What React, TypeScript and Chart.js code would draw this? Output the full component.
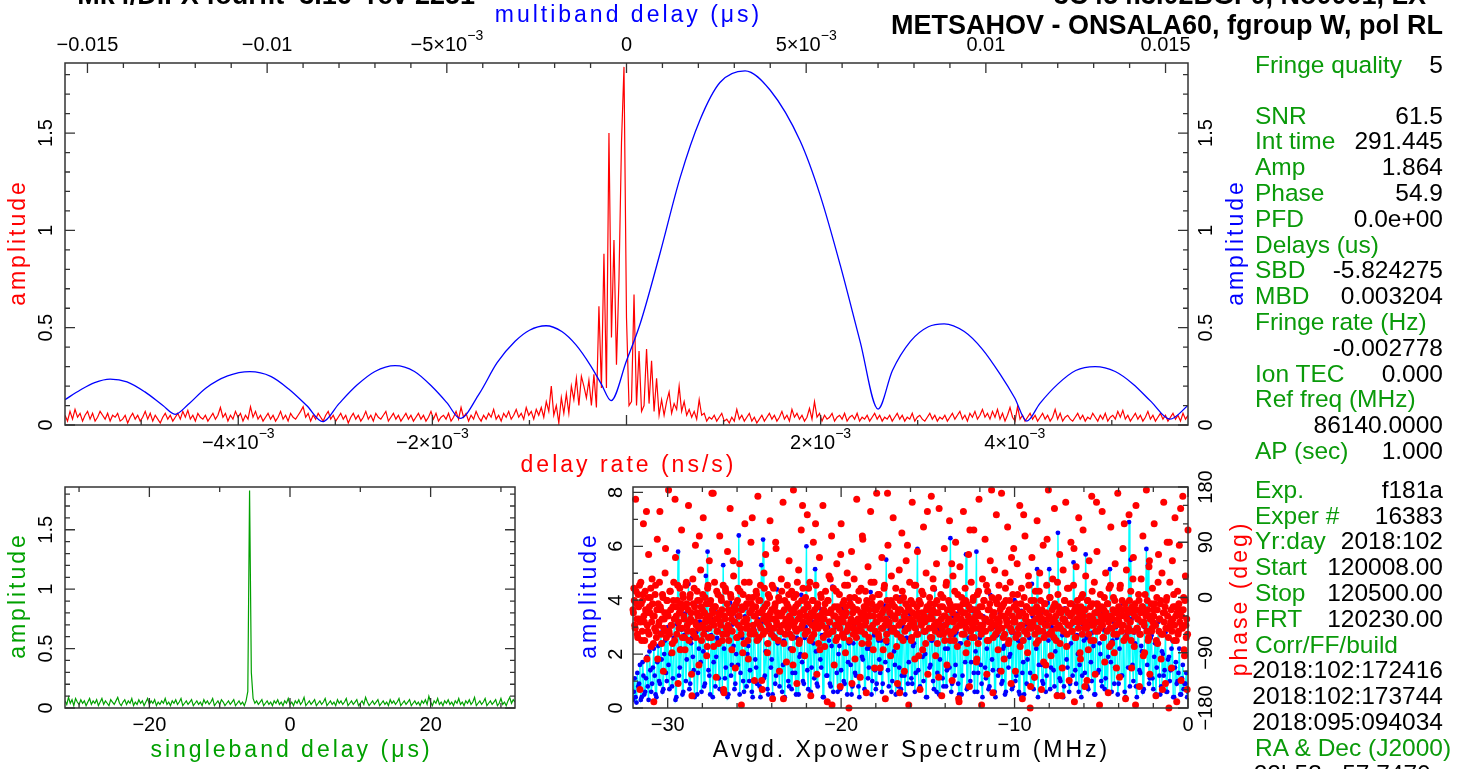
import React, { useEffect, useRef } from 'react';
import { Chart, registerables } from 'chart.js';
Chart.register(...registerables);

const W = 1462;
const H = 769;
const FONT = '"Liberation Sans", Arial, Helvetica, sans-serif';
const RED = '#ff0000';
const BLUE = '#0000ff';
const GREEN = '#00a000';
const CYAN = '#00ffff';
const PANEL_GREEN = '#0a9a0a';

// ---------------- data ----------------
// delay-rate spectrum (red), uniformly sampled over this range (ns/s)
const delayRateRange = [-5.785e-3, 5.785e-3];
const delayRateAmp = [
  0.05,0.02,0.07,0.03,0.08,0.04,0.06,0.02,0.05,0.07,0.03,0.06,0.02,0.04,0.07,0.05,0.03,0.06,0.02,0.05,
  0.04,0.06,0.02,0.03,0.05,0.01,0.04,0.06,0.03,0.05,0.02,0.04,0.07,0.03,0.06,0.02,0.05,0.03,0.01,0.04,
  0.06,0.03,0.05,0.02,0.04,0.06,0.03,0.07,0.04,0.075,0.03,0.05,0.02,0.06,0.04,0.03,0.05,0.02,0.04,0.06,
  0.03,0.05,0.09,0.04,0.06,0.02,0.05,0.03,0.07,0.04,0.06,0.02,0.05,0.03,0.094,0.04,0.07,0.03,0.05,0.02,
  0.04,0.06,0.03,0.05,0.02,0.04,0.07,0.03,0.05,0.02,0.06,0.04,0.03,0.05,0.07,0.094,0.04,0.06,0.02,0.05,
  0.03,0.06,0.04,0.02,0.05,0.07,0.03,0.05,0.02,0.04,0.06,0.03,0.05,0.01,0.04,0.06,0.03,0.05,0.02,0.04,
  0.07,0.03,0.05,0.02,0.06,0.04,0.03,0.05,0.07,0.02,0.04,0.06,0.03,0.05,0.02,0.04,0.06,0.03,0.05,0.02,
  0.04,0.06,0.03,0.05,0.02,0.04,0.07,0.03,0.06,0.02,0.04,0.05,0.03,0.06,0.02,0.04,0.07,0.03,0.09,0.04,
  0.06,0.02,0.05,0.03,0.07,0.04,0.02,0.05,0.03,0.06,0.04,0.08,0.03,0.05,0.02,0.06,0.04,0.07,0.03,0.05,
  0.08,0.04,0.06,0.03,0.09,0.05,0.07,0.03,0.08,0.05,0.09,0.04,0.12,0.07,0.20,0.05,0.10,0.01,0.14,0.06,
  0.16,0.06,0.20,0.13,0.24,0.10,0.25,0.20,0.14,0.23,0.10,0.26,
  0.09,0.61,0.19,0.88,0.19,1.50,0.45,0.95,0.31,0.75,1.45,1.84,0.55,0.10,0.12,0.67,0.10,
  0.38,0.07,0.10,0.39,0.11,0.33,0.07,0.24,0.05,0.13,0.05,0.12,0.17,0.06,0.11,0.08,0.20,0.07,0.12,0.05,
  0.08,0.04,0.07,0.03,0.13,0.05,0.06,0.02,0.04,0.03,0.05,0.02,0.04,0.06,0.02,0.03,0.01,0.04,0.02,0.08,
  0.03,0.05,0.02,0.04,0.06,0.02,0.04,0.01,0.03,0.05,0.02,0.04,0.06,0.03,0.05,0.02,0.04,0.07,0.03,0.05,
  0.02,0.08,0.04,0.06,0.03,0.05,0.02,0.04,0.085,0.03,0.12,0.04,0.06,0.02,0.05,0.03,0.04,0.06,0.02,0.04,
  0.05,0.03,0.06,0.02,0.04,0.05,0.03,0.06,0.02,0.04,0.03,0.05,0.02,0.04,0.06,0.03,0.05,0.02,0.04,0.03,
  0.05,0.02,0.04,0.06,0.03,0.05,0.02,0.04,0.03,0.06,0.02,0.04,0.05,0.03,0.02,0.04,0.06,0.03,0.05,0.02,
  0.04,0.03,0.05,0.02,0.04,0.06,0.03,0.05,0.07,0.03,0.05,0.02,0.06,0.04,0.07,0.03,0.05,0.08,0.04,0.06,
  0.03,0.07,0.04,0.08,0.03,0.06,0.02,0.05,0.09,0.04,0.02,0.095,0.03,0.05,0.02,0.04,0.06,0.03,0.05,0.02,
  0.04,0.06,0.03,0.05,0.02,0.04,0.08,0.03,0.06,0.02,0.04,0.05,0.03,0.02,0.04,0.06,0.03,0.05,0.02,0.04,
  0.03,0.06,0.04,0.02,0.05,0.03,0.06,0.02,0.04,0.05,0.03,0.07,0.04,0.075,0.03,0.05,0.02,0.04,0.06,0.03,
  0.05,0.02,0.04,0.07,0.03,0.05,0.02,0.04,0.06,0.03,0.05,0.02,0.04,0.06,0.03,0.05,0.02,0.06,0.03,0.05,
];

// multiband delay function (blue), read at these delays (μs)
const mbdDelay = [
  -0.015625,-0.0152,-0.0148,-0.01437,-0.0139,-0.0134,-0.0129,-0.01256,-0.0122,-0.0117,-0.0111,-0.01048,
  -0.0099,-0.0094,-0.0089,-0.00845,-0.0080,-0.0075,-0.0070,-0.00644,-0.0059,-0.0054,-0.0050,-0.00463,
  -0.0041,-0.0036,-0.0031,-0.0027,-0.00224,-0.0018,-0.0014,-0.0010,-0.0007,-0.00043,0.0,0.00038,
  0.00093,0.00149,0.00205,0.0026,0.0033,0.0040,0.00483,0.00539,0.00595,0.0065,0.0070,0.0074,0.0079,
  0.0084,0.00884,0.0094,0.0099,0.0104,0.0108,0.01114,0.0115,0.0120,0.0125,0.01304,0.0136,0.0141,
  0.0146,0.01512,0.015625,
];
const mbdAmp = [
  0.130,0.180,0.218,0.236,0.222,0.170,0.100,0.055,0.105,0.190,0.252,0.274,
  0.250,0.185,0.100,0.017,0.110,0.205,0.275,0.305,0.275,0.195,0.115,0.034,
  0.160,0.320,0.430,0.487,0.510,0.480,0.410,0.305,0.210,0.125,0.330,0.520,
  0.880,1.270,1.570,1.760,1.820,1.720,1.460,1.180,0.820,0.430,0.082,0.280,0.430,
  0.505,0.520,0.480,0.390,0.260,0.140,0.020,0.110,0.210,0.280,0.300,0.275,0.210,
  0.120,0.030,0.100,
];

// singleband delay function (green), uniformly sampled (μs)
const sbdRange = [-32, 32];
const sbdAmp = [
  0.06,0.03,0.09,0.04,0.07,0.02,0.08,0.05,0.03,0.07,0.04,0.06,0.02,0.05,0.08,0.03,0.06,0.04,0.07,0.02,
  0.05,0.08,0.03,0.06,0.04,0.02,0.07,0.05,0.03,0.06,0.09,0.04,0.02,0.05,0.07,0.03,0.06,0.04,0.08,0.02,
  0.05,0.03,0.07,0.04,0.06,0.02,0.05,0.08,0.03,0.06,0.04,0.07,0.02,0.05,0.03,0.06,0.04,0.08,0.03,0.05,
  0.02,0.06,0.04,0.07,0.03,0.05,0.08,0.02,0.04,0.06,0.03,0.05,0.07,0.02,0.04,0.06,0.03,0.05,0.02,0.07,
  0.04,0.06,0.03,0.05,0.08,0.02,0.04,0.06,0.03,0.07,0.05,0.02,0.04,0.06,0.03,0.05,0.07,0.02,0.04,0.06,
  0.03,0.05,0.02,0.06,0.14,1.83,0.30,0.08,0.04,0.06,0.03,0.05,0.07,0.02,0.04,0.06,0.03,0.05,0.02,0.06,
  0.04,0.07,0.03,0.05,0.02,0.06,0.04,0.08,0.03,0.05,0.02,0.06,0.04,0.07,0.03,0.05,0.09,0.02,0.04,0.06,
  0.03,0.05,0.07,0.02,0.04,0.06,0.03,0.05,0.08,0.02,0.04,0.06,0.03,0.05,0.02,0.07,0.04,0.06,0.03,0.05,
  0.08,0.02,0.04,0.06,0.03,0.05,0.07,0.02,0.04,0.06,0.03,0.09,0.05,0.02,0.04,0.06,0.03,0.05,0.07,0.02,
  0.04,0.06,0.03,0.05,0.02,0.07,0.04,0.06,0.03,0.05,0.08,0.02,0.04,0.06,0.03,0.05,0.07,0.02,0.04,0.06,
  0.03,0.05,0.02,0.06,0.04,0.07,0.03,0.10,0.05,0.02,0.06,0.04,0.08,0.03,0.05,0.02,0.06,0.04,0.07,0.03,
  0.05,0.02,0.06,0.04,0.08,0.03,0.05,0.02,0.06,0.04,0.07,0.03,0.05,0.09,0.02,0.04,0.06,0.03,0.05,0.08,
  0.02,0.04,0.06,0.03,0.05,0.07,0.02,0.04,0.08,0.03,0.05,0.02,0.06,0.09,0.04,0.07,0.05,
];

// averaged cross-power spectrum (MHz). Two interleaved halves of one uniform grid:
// "A" samples fall on even grid points, "B" samples on the odd points between them.
const specRange = [-32, 0];
const specAmpA = [
  0.3,1.1,0.2,0.8,1.6,0.4,1.2,0.6,1.9,0.3,1.4,0.9,2.2,0.5,1.7,1.0,2.8,0.6,2.0,1.3,
  3.0,0.7,2.4,1.1,3.3,0.4,5.8,1.5,2.9,0.6,3.5,1.8,4.6,0.9,2.6,1.4,3.8,0.5,2.2,1.7,
  3.1,0.8,4.9,5.8,1.2,2.7,0.4,3.6,1.9,2.5,0.7,3.2,5.3,1.1,2.8,0.5,3.9,1.6,2.3,0.9,
  3.4,6.4,1.3,2.6,0.6,3.7,2.0,1.0,4.1,0.4,2.9,1.5,3.3,0.8,5.3,6.25,1.2,2.4,0.5,3.5,
  1.8,2.7,0.9,4.4,1.4,3.0,0.6,2.5,1.7,3.8,0.8,2.2,1.3,3.6,0.5,2.9,1.9,4.2,1.0,2.6,
  6.0,0.7,3.1,1.5,2.4,5.15,0.9,3.4,1.8,2.7,0.4,3.9,1.2,2.5,0.8,4.5,1.6,3.0,0.6,2.3,
  1.4,3.7,0.9,2.8,1.7,4.0,0.5,2.4,1.3,3.3,0.8,2.9,1.9,3.6,0.6,2.2,1.5,4.3,1.0,2.7,
  0.7,3.2,1.8,2.5,0.9,3.8,5.5,1.4,2.9,0.6,3.4,1.6,2.3,0.8,4.1,1.2,3.0,0.5,2.6,1.7,
  3.5,0.9,2.4,1.3,5.9,0.7,3.1,1.9,2.8,0.4,3.7,1.5,2.5,1.0,4.4,0.6,2.9,1.8,3.3,0.8,
  2.2,1.4,3.9,6.3,0.9,2.7,1.6,3.5,0.5,2.4,1.2,3.1,5.7,0.8,2.9,1.7,3.6,0.6,5.8,1.3,
  2.6,0.9,3.4,1.5,2.2,0.7,4.2,1.8,3.0,0.4,2.7,1.4,3.8,1.0,2.3,0.6,3.3,1.9,2.8,0.8,
  4.0,1.2,2.5,0.5,3.6,1.7,2.9,0.9,3.2,1.3,4.6,0.7,2.4,5.15,1.6,3.5,1.0,2.8,0.6,3.9,
  5.15,1.5,2.6,0.8,3.4,6.5,1.1,2.9,0.4,3.7,1.8,2.3,0.9,3.1,5.4,1.4,2.7,0.6,3.6,1.2,
  2.5,5.7,0.8,3.3,1.7,2.8,0.5,3.9,1.3,2.4,1.0,3.5,0.7,2.9,1.9,5.15,0.6,3.2,1.5,2.6,
  0.9,3.8,1.2,2.5,0.4,3.4,6.9,5.5,1.6,2.8,0.8,3.6,1.4,2.3,0.6,3.0,5.9,5.3,1.1,2.7,
  0.7,2.4,1.5,3.2,0.5,2.1,1.2,2.8,0.6,1.9,1.4,2.5,0.4,1.7,1.0,2.2,0.5,1.6,0.9,1.3,0.6,
];
const specAmpB = [
  0.6,0.4,1.3,0.9,0.3,1.7,0.5,1.1,0.8,2.1,0.6,1.5,1.2,0.4,2.3,0.9,1.8,0.7,2.5,1.0,
  1.6,2.0,0.8,2.6,0.3,3.1,1.2,2.2,0.5,2.7,1.0,3.0,0.7,2.4,1.9,0.4,2.8,1.3,3.2,0.6,
  2.1,0.9,2.9,1.4,0.5,3.3,1.7,0.8,2.6,1.1,3.5,0.6,2.2,1.5,0.4,2.9,1.2,3.1,0.7,2.0,
  1.6,0.5,2.8,1.0,3.4,0.8,2.3,1.4,0.6,3.0,1.8,0.9,2.5,0.4,3.2,1.1,2.1,0.7,2.9,1.5,
  0.5,3.3,1.2,2.4,0.8,2.8,1.6,0.4,3.1,1.0,2.2,0.7,3.6,1.3,2.6,0.5,2.0,1.7,0.9,3.0,
  1.4,2.5,0.6,3.2,1.1,2.1,0.8,3.7,1.5,0.4,2.7,1.2,3.0,0.9,2.3,0.6,3.4,1.3,2.0,0.7,
  2.8,1.0,3.5,0.5,2.4,1.6,0.8,3.1,1.2,2.6,0.4,2.9,1.8,0.7,3.3,1.1,2.2,0.5,3.8,1.4,
  0.9,2.5,1.3,0.6,3.0,1.7,2.4,0.8,3.4,1.0,2.1,0.5,2.8,1.5,0.7,3.2,1.2,2.6,0.9,3.5,
  1.1,2.3,0.6,2.9,1.4,0.8,3.3,1.0,2.0,0.4,3.6,1.6,2.5,0.7,3.0,1.3,0.5,2.7,1.1,3.1,
  0.8,2.2,1.5,0.6,3.4,1.2,2.8,0.9,2.4,0.5,3.1,1.7,0.7,2.6,1.0,3.7,1.3,2.1,0.6,2.9,
  1.6,0.4,3.2,1.1,2.5,0.8,3.0,1.4,0.6,2.7,1.2,3.5,0.9,2.2,0.5,3.3,1.5,2.0,0.7,2.8,
  1.0,3.6,0.6,2.4,1.3,0.5,3.1,1.8,2.6,0.8,3.4,1.1,2.2,0.4,2.9,1.6,0.9,3.2,1.2,2.5,
  0.7,3.0,1.4,2.1,0.5,3.5,1.0,2.7,0.8,3.3,1.5,0.6,2.4,1.2,3.8,0.9,2.0,1.6,0.4,3.1,
  1.3,2.6,0.7,3.2,1.0,2.3,0.5,3.6,1.4,2.0,0.8,2.9,1.1,0.6,3.4,1.7,2.5,0.9,3.0,0.5,
  2.2,1.2,3.1,0.6,2.7,1.5,0.8,3.3,1.0,2.4,0.4,2.9,1.3,2.1,0.7,3.5,1.6,0.9,2.6,1.1,
  1.9,0.5,2.4,1.2,0.8,2.0,1.4,0.6,1.8,1.0,2.2,0.4,1.5,0.9,1.3,0.5,1.1,0.7,0.9,0.4,
];
const specPhaseA = [
  -20,15,-45,160,-10,-60,5,-35,-150,25,-70,-5,120,-40,10,-25,-100,-55,70,-15,
  0,-80,30,-30,-170,-50,20,-65,95,-10,-40,140,-20,-75,5,-120,-35,40,-55,-5,
  -25,175,-60,10,-45,-90,-15,25,-70,65,-30,-5,-140,-50,15,-20,110,-65,0,-35,
  -85,20,-10,-55,150,-40,5,-25,-160,30,-60,-15,85,-45,10,-30,-110,-5,45,-70,
  -20,130,-50,0,-35,-95,15,-65,60,-10,-40,170,-25,-80,25,-15,-130,-55,5,-30,
  100,-45,-5,-70,20,-155,-35,10,-60,75,-20,-50,145,0,-85,-25,35,-40,-115,-10,
  -65,15,-30,55,-50,-175,-15,5,-75,120,-35,-10,-45,-100,25,-60,90,-20,0,-55,
  -135,-30,10,-70,165,-5,-45,20,-25,-150,-60,40,-15,70,-40,-90,5,-35,125,-50,
  -20,-165,15,-65,-10,80,-45,-30,0,-120,-55,30,-25,155,-75,-5,-40,-105,20,-15,
  60,-60,-35,10,-85,175,-25,-50,5,-140,-10,45,-70,-30,110,-45,15,-20,-95,0,
  -55,135,-15,-40,25,-160,-65,-5,90,-30,-50,20,-125,-10,-75,65,-35,0,-45,150,
  -20,-80,10,-60,-170,-5,35,-40,-25,100,-55,15,-110,-30,-70,55,-15,-45,5,-145,
  120,-35,-10,-65,20,-90,-25,40,-50,-180,0,-40,75,-15,-60,30,-100,-20,160,-55,
  -5,-35,-130,15,-75,95,-25,-45,10,-155,-10,50,-65,-30,140,-50,0,-85,25,-20,
  -40,170,-15,-60,5,-115,-35,65,-50,-20,20,-165,-70,-5,85,-45,-25,-95,35,-10,
  130,-55,-30,15,-80,-140,-20,45,-5,-65,105,-40,0,-120,-25,60,-50,-15,-175,25,
  -35,-70,155,-10,-45,-100,20,-60,75,-25,-5,-150,-40,10,-85,115,-30,-55,40,-15,
  -125,-20,0,-65,165,-35,30,-50,-10,-95,55,-75,-25,145,-45,5,-160,-15,-60,80,
  -30,20,-110,-40,-5,125,-70,-20,-135,35,-55,10,90,-35,-80,-15,-170,50,-45,0,
  -25,140,-60,15,-90,-10,-40,70,-145,-20,25,-65,-5,110,-50,-30,-105,5,-75,160,
  -15,-45,-175,30,-55,-5,95,-35,-125,10,-70,-20,60,-40,0,-155,-25,45,-60,135,
  -10,-85,20,-50,-30,170,-15,-65,-100,40,-5,-40,115,-75,-20,25,-140,-55,5,80,
  -35,-120,-10,55,-60,-25,150,-45,15,-165,-70,0,100,-30,-15,-90,35,-50,-180,-5,
  65,-40,-20,-130,10,-75,125,-25,-55,40,-5,-150,-35,85,-65,-10,-110,20,-45,175,
  -30,0,-95,-60,30,-15,145,-40,-70,-160,5,-25,70,-50,-20,-115,45,-35,-5,155,
  -80,15,-45,-135,-10,90,-55,-25,20,-170,-65,50,-15,-40,130,-30,-100,0,-60,110,
  -20,-145,35,-50,-5,-85,60,-35,-70,165,-10,-45,25,-125,-25,75,-55,-15,-175,5,
  -40,140,-65,-20,-105,40,-30,-10,-155,15,-50,115,-75,-35,0,-90,55,-25,-60,170,
  -15,-130,20,-45,-5,80,-70,-30,-165,45,-20,-55,135,-40,10,-115,-25,65,-80,-10,
  150,-50,-35,5,-145,-60,30,-15,100,-40,-90,-25,175,-5,-70,50,-125,-30,-55,15,
  -20,120,-45,-160,0,-75,70,-35,-10,-100,40,-60,155,-25,-140,-5,90,-50,-180,25,
  -40,-115,60,-15,-70,130,-30,-170,10,-55,85,-20,-135,-45,165,0,-95,35,-65,-150,
  110,
];
const specPhaseB = [
  -25,-5,-50,10,-35,-65,-15,20,-40,-10,-55,5,-30,-70,-20,140,-45,0,-60,-25,
  15,-40,-10,-75,-30,5,-55,-20,-100,-45,25,-15,-60,-35,0,-50,-25,80,-65,-5,
  -30,-55,10,-20,-45,-75,-5,-35,160,-15,-60,20,-40,-25,-85,-10,-50,5,-30,-65,
  -15,25,-45,-20,-70,0,-35,-125,-55,-10,15,-40,-65,-25,-5,-50,100,-30,-15,-45,
  5,-60,-25,-40,-10,-80,20,-50,-30,-5,-65,-20,170,-45,-15,-35,10,-55,-75,-25,
  -40,0,-20,-60,-150,-30,15,-50,-10,-45,-70,-25,5,-35,-55,60,-15,-40,-20,-65,
  -5,-45,-30,10,-60,-20,-90,-40,25,-15,-50,-35,-70,0,-25,-55,-10,130,-45,-30,
  -60,-15,5,-40,-25,-65,-5,-50,-135,-20,-35,15,-55,-30,-10,-75,-45,0,-25,-60,
  20,-35,-50,-15,90,-40,-25,-70,-5,-55,-30,10,-45,-165,-20,-60,-35,-10,-50,5,
  -30,-45,-20,-65,-110,0,-40,-15,-55,25,-35,-75,-25,-50,-5,150,-40,-20,-60,-30,
  -10,-55,15,-35,-70,-25,-45,-5,-60,-20,120,-40,-15,-50,-30,-85,5,-45,-25,-65,
  -35,-10,-50,-25,-5,-60,-40,30,-20,-175,-55,-30,-15,-45,10,-65,-35,-20,-50,70,
  -25,-60,-40,-5,-30,-15,-55,20,-45,-70,-10,-35,-140,-25,-50,0,-40,-65,-20,-35,
  10,-45,-25,-55,100,-35,-15,-60,-40,-5,-30,-75,-20,-50,25,-10,-45,-30,-115,-55,
  -20,-40,5,-65,-30,-10,-50,-25,-85,15,-45,-35,-60,170,-15,-40,-25,-5,-55,-30,
  -50,-15,-35,0,-60,-25,-45,-155,-20,-40,10,-70,-30,-55,-10,-35,85,-50,-20,-45,
  -5,-65,-25,-40,20,-50,-30,-15,-60,-95,-35,-10,-45,-25,5,-55,-40,-75,-20,140,
  -35,-50,-10,-30,-65,-20,15,-45,-55,-25,-5,-40,-130,-60,-15,-35,-50,0,-30,-70,
  -45,25,-20,-55,-35,-10,-60,55,-25,-40,-70,-15,-50,-30,5,-165,-45,-20,-35,-60,
  -10,-40,-25,-5,-50,-75,-30,-15,110,-55,-35,-45,0,-65,-20,-40,-100,-25,10,-50,
  -30,-60,-15,-45,-5,-35,-55,20,-70,-20,-40,-10,-50,175,-30,-65,-25,-45,-5,-35,
  -55,0,-40,-20,-120,-50,-30,-10,-60,15,-35,-45,-25,-70,-5,-50,65,-30,-40,-15,
  -40,-65,-20,5,-50,-30,-80,-10,-45,-25,135,-55,-35,-15,-60,-40,20,-20,-145,-50,
  -25,-45,-5,-60,-35,-15,-50,-70,10,-30,-40,-20,-55,-105,-10,-45,-25,95,-35,-60,
  0,-35,-55,-20,-40,-65,-10,-30,-50,25,-15,-45,-75,-25,-160,-35,-55,-5,-40,-20,
  -60,-25,15,-45,-30,-10,-55,-40,80,-20,-65,-35,-5,-50,-25,-90,-15,-40,5,-30,
  -50,-20,-40,-135,-5,-60,-30,-15,-45,10,-35,-70,-25,-55,155,-10,-40,-20,-50,-30,
  -15,-45,-65,0,-35,-25,-55,-10,-40,-80,20,-30,-50,-20,-60,-5,-45,-115,-25,-35,
  -40,15,-30,-55,-20,-45,120,-10,-65,-35,-25,-50,-5,-40,-70,-15,30,-55,-30,-175,
  -20,-50,-35,-5,-60,-25,-40,-15,-95,-45,5,-30,-55,-20,-65,60,-35,-10,-50,-40,
  -30,-10,-45,-70,-20,25,-55,-35,-5,-60,-150,-25,-40,-15,-50,0,-30,-65,90,-45,
  -20,-55,-35,5,-45,-15,-70,-25,-60,-10,-40,145,-30,-50,-20,-85,-5,-45,-35,-60,
];

// axis ticks and labels
const mbdTicks = [-0.015, -0.01, -0.005, 0, 0.005, 0.01, 0.015];
const mbdTickLabels = ['−0.015', '−0.01', '−5×10^−3', '0', '5×10^−3', '0.01', '0.015'];
const rateTicks = [-4e-3, -2e-3, 0, 2e-3, 4e-3];
const rateLabelTicks = [-4e-3, -2e-3, 2e-3, 4e-3];
const rateTickLabels = ['−4×10^−3', '−2×10^−3', '2×10^−3', '4×10^−3'];
const ampTicks = [0, 0.5, 1, 1.5];
const ampTickLabels = ['0', '0.5', '1', '1.5'];
const sbdTicks = [-20, 0, 20];
const sbdTickLabels = ['−20', '0', '20'];
const specTicks = [-30, -20, -10, 0];
const specTickLabels = ['−30', '−20', '−10', '0'];
const specAmpTicks = [0, 2, 4, 6, 8];
const specAmpTickLabels = ['0', '2', '4', '6', '8'];
const phaseTicks = [-180, -90, 0, 90, 180];
const phaseTickLabels = ['−180', '−90', '0', '90', '180'];

const panelRows: [string, string, number][] = [
  ['Fringe quality', '5', 65],
  ['SNR', '61.5', 116],
  ['Int time', '291.445', 141],
  ['Amp', '1.864', 167],
  ['Phase', '54.9', 193],
  ['PFD', '0.0e+00', 219],
  ['Delays (us)', '', 245],
  ['SBD', '-5.824275', 270],
  ['MBD', '0.003204', 296],
  ['Fringe rate (Hz)', '', 322],
  ['', '-0.002778', 348],
  ['Ion TEC', '0.000', 374],
  ['Ref freq (MHz)', '', 399],
  ['', '86140.0000', 425],
  ['AP (sec)', '1.000', 451],
  ['Exp.', 'f181a', 490],
  ['Exper #', '16383', 516],
  ['Yr:day', '2018:102', 541],
  ['Start', '120008.00', 567],
  ['Stop', '120500.00', 593],
  ['FRT', '120230.00', 619],
  ['Corr/FF/build', '', 645],
  ['', '2018:102:172416', 670],
  ['', '2018:102:173744', 696],
  ['', '2018:095:094034', 722],
  ['RA & Dec (J2000)', '', 748],
  ['', '22h53m57.7470s', 774],
];

// ---------------- helpers ----------------
function onGrid(range: number[], values: number[]) {
  const n = values.length;
  return values.map((y, i) => ({ x: range[0] + ((range[1] - range[0]) * i) / (n - 1), y }));
}
function interleave(a: number[], b: number[]) {
  const out: number[] = [];
  a.forEach((v, i) => {
    out.push(v);
    if (i < b.length) out.push(b[i]);
  });
  return out;
}
function seq(a: number, b: number, step: number) {
  const out: number[] = [];
  const n = Math.round((b - a) / step);
  for (let i = 0; i <= n; i++) out.push(a + i * step);
  return out;
}
function minorsOf(a: number, b: number, step: number, majors: number[]) {
  return seq(a, b, step).filter((v) => !majors.some((m) => Math.abs(m - v) < step * 1e-3));
}

function drawText(
  ctx: CanvasRenderingContext2D, text: string, x: number, y: number,
  size: number, color: string, rotate = false, spacing = 0,
) {
  ctx.save();
  ctx.translate(x, y);
  if (rotate) ctx.rotate(-Math.PI / 2);
  ctx.fillStyle = color;
  ctx.textBaseline = 'middle';
  ctx.textAlign = 'left';
  const c = ctx as any;
  c.letterSpacing = spacing + 'px';
  const [main, sup] = text.split('^');
  const ss = Math.round(size * 0.68);
  ctx.font = `${size}px ${FONT}`;
  const w1 = ctx.measureText(main).width;
  let w2 = 0;
  if (sup) {
    ctx.font = `${ss}px ${FONT}`;
    w2 = ctx.measureText(sup).width;
  }
  const x0 = -(w1 + w2 - spacing) / 2;
  ctx.font = `${size}px ${FONT}`;
  ctx.fillText(main, x0, 0);
  if (sup) {
    ctx.font = `${ss}px ${FONT}`;
    ctx.fillText(sup, x0 + w1, -size * 0.45);
  }
  c.letterSpacing = '0px';
  ctx.restore();
}

type Side = 'top' | 'bottom' | 'left' | 'right';
interface AxisDraw {
  scale: string;
  side: Side;
  major: number[];
  minor: number[];
  labelValues?: number[];
  labels?: string[];
  labelPos?: number;
}
interface TitleDraw { text: string; x: number; y: number; color: string; rotate?: boolean }

function framePlugin(axes: AxisDraw[], titles: TitleDraw[]) {
  return {
    id: 'pgframe',
    afterDatasetsDraw(chart: any) {
      const ctx: CanvasRenderingContext2D = chart.ctx;
      const ca = chart.chartArea;
      ctx.save();
      ctx.strokeStyle = '#333';
      ctx.lineWidth = 1.5;
      ctx.strokeRect(ca.left, ca.top, ca.right - ca.left, ca.bottom - ca.top);
      ctx.lineWidth = 1.3;
      for (const ax of axes) {
        const sc = chart.scales[ax.scale];
        ctx.beginPath();
        const tick = (v: number, len: number) => {
          const p = sc.getPixelForValue(v);
          if (ax.side === 'bottom') { ctx.moveTo(p, ca.bottom); ctx.lineTo(p, ca.bottom - len); }
          if (ax.side === 'top') { ctx.moveTo(p, ca.top); ctx.lineTo(p, ca.top + len); }
          if (ax.side === 'left') { ctx.moveTo(ca.left, p); ctx.lineTo(ca.left + len, p); }
          if (ax.side === 'right') { ctx.moveTo(ca.right, p); ctx.lineTo(ca.right - len, p); }
        };
        ax.major.forEach((v) => tick(v, 10));
        ax.minor.forEach((v) => tick(v, 5));
        ctx.stroke();
        if (ax.labels && ax.labelPos !== undefined) {
          const vals = ax.labelValues || ax.major;
          ax.labels.forEach((t, i) => {
            const p = sc.getPixelForValue(vals[i]);
            if (ax.side === 'left' || ax.side === 'right') drawText(ctx, t, ax.labelPos!, p, 20, '#000', true);
            else drawText(ctx, t, p, ax.labelPos!, 20, '#000');
          });
        }
      }
      for (const t of titles) drawText(ctx, t.text, t.x, t.y, 23, t.color, !!t.rotate, 3);
      ctx.restore();
    },
  };
}

const baseOptions = (padding: any) => ({
  responsive: false,
  animation: false as const,
  events: [] as any[],
  layout: { padding },
  plugins: { legend: { display: false }, tooltip: { enabled: false } },
});

export default function App() {
  const topRef = useRef<HTMLCanvasElement>(null);
  const sbdRef = useRef<HTMLCanvasElement>(null);
  const specRef = useRef<HTMLCanvasElement>(null);

  useEffect(() => {
    const charts: Chart[] = [];
    const ampMinor = minorsOf(0, 1.8, 0.1, ampTicks);

    // ---- top: delay rate + multiband delay ----
    charts.push(new Chart(topRef.current!, {
      type: 'line',
      data: {
        datasets: [
          {
            data: mbdDelay.map((x, i) => ({ x, y: mbdAmp[i] })),
            xAxisID: 'xTop', yAxisID: 'y', borderColor: BLUE, borderWidth: 1.3,
            pointRadius: 0, cubicInterpolationMode: 'monotone', order: 0,
          },
          {
            data: onGrid(delayRateRange, delayRateAmp),
            xAxisID: 'x', yAxisID: 'y', borderColor: RED, borderWidth: 1.2,
            pointRadius: 0, tension: 0, order: 1,
          },
        ],
      } as any,
      options: {
        ...baseOptions({ left: 65, top: 63, right: W - 1188, bottom: H - 425 }),
        scales: {
          x: { type: 'linear', min: delayRateRange[0], max: delayRateRange[1], display: false },
          xTop: { type: 'linear', axis: 'x', position: 'top', min: -0.015625, max: 0.015625, display: false },
          y: { type: 'linear', min: 0, max: 1.86, display: false },
        },
      } as any,
      plugins: [framePlugin(
        [
          { scale: 'x', side: 'bottom', major: rateTicks, minor: minorsOf(-5e-3, 5e-3, 1e-3, rateTicks),
            labelValues: rateLabelTicks, labels: rateTickLabels, labelPos: 443 },
          { scale: 'xTop', side: 'top', major: mbdTicks, minor: minorsOf(-0.015, 0.015, 0.001, mbdTicks),
            labels: mbdTickLabels, labelPos: 45 },
          { scale: 'y', side: 'left', major: ampTicks, minor: ampMinor, labels: ampTickLabels, labelPos: 46 },
          { scale: 'y', side: 'right', major: ampTicks, minor: ampMinor, labels: ampTickLabels, labelPos: 1206 },
        ],
        [
          { text: 'multiband delay (μs)', x: 627, y: 16, color: BLUE },
          { text: 'delay rate (ns/s)', x: 627, y: 466, color: RED },
          { text: 'amplitude', x: 19, y: 244, color: RED, rotate: true },
          { text: 'amplitude', x: 1237, y: 244, color: BLUE, rotate: true },
        ],
      )],
    }));

    // ---- bottom left: singleband delay ----
    charts.push(new Chart(sbdRef.current!, {
      type: 'line',
      data: {
        datasets: [{
          data: onGrid(sbdRange, sbdAmp), borderColor: GREEN, borderWidth: 1.2, pointRadius: 0, tension: 0,
        }],
      } as any,
      options: {
        ...baseOptions({ left: 65, top: 487, right: W - 515, bottom: H - 708 }),
        scales: {
          x: { type: 'linear', min: sbdRange[0], max: sbdRange[1], display: false },
          y: { type: 'linear', min: 0, max: 1.86, display: false },
        },
      } as any,
      plugins: [framePlugin(
        [
          { scale: 'x', side: 'bottom', major: sbdTicks, minor: [-30, -10, 10, 30], labels: sbdTickLabels, labelPos: 725 },
          { scale: 'x', side: 'top', major: sbdTicks, minor: [-30, -10, 10, 30] },
          { scale: 'y', side: 'left', major: ampTicks, minor: ampMinor, labels: ampTickLabels, labelPos: 46 },
          { scale: 'y', side: 'right', major: ampTicks, minor: ampMinor },
        ],
        [
          { text: 'singleband delay (μs)', x: 290, y: 751, color: GREEN },
          { text: 'amplitude', x: 19, y: 597, color: GREEN, rotate: true },
        ],
      )],
    }));

    // ---- bottom middle: cross-power spectrum ----
    charts.push(new Chart(specRef.current!, {
      type: 'line',
      data: {
        datasets: [
          {
            data: onGrid(specRange, interleave(specPhaseA, specPhaseB)), yAxisID: 'yP', showLine: false,
            pointRadius: 3.5, pointBackgroundColor: RED, pointBorderColor: RED, pointBorderWidth: 0,
            order: 0, clip: 5,
          },
          {
            data: onGrid(specRange, interleave(specAmpA, specAmpB)), yAxisID: 'y', borderColor: CYAN, borderWidth: 1.4,
            pointRadius: 2.4, pointBackgroundColor: BLUE, pointBorderColor: BLUE, pointBorderWidth: 0,
            tension: 0, order: 1,
          },
        ],
      } as any,
      options: {
        ...baseOptions({ left: 633, top: 487, right: W - 1188, bottom: H - 708 }),
        scales: {
          x: { type: 'linear', min: specRange[0], max: specRange[1], display: false },
          y: { type: 'linear', min: 0, max: 8.2, display: false },
          yP: { type: 'linear', axis: 'y', position: 'right', min: -180, max: 180, display: false },
        },
      } as any,
      plugins: [framePlugin(
        [
          { scale: 'x', side: 'bottom', major: specTicks, minor: minorsOf(-30, -2, 2, specTicks),
            labels: specTickLabels, labelPos: 725 },
          { scale: 'x', side: 'top', major: specTicks, minor: minorsOf(-30, -2, 2, specTicks) },
          { scale: 'y', side: 'left', major: specAmpTicks, minor: [1, 3, 5, 7], labels: specAmpTickLabels, labelPos: 616 },
          { scale: 'yP', side: 'right', major: phaseTicks, minor: minorsOf(-150, 150, 30, phaseTicks),
            labels: phaseTickLabels, labelPos: 1206 },
        ],
        [
          { text: 'Avgd. Xpower Spectrum (MHz)', x: 910, y: 751, color: '#000' },
          { text: 'amplitude', x: 590, y: 597, color: BLUE, rotate: true },
          { text: 'phase (deg)', x: 1241, y: 600, color: RED, rotate: true },
        ],
      )],
    }));

    return () => charts.forEach((c) => c.destroy());
  }, []);

  const canvasStyle: React.CSSProperties = { position: 'absolute', left: 0, top: 0, width: W, height: H };
  const panelFont: React.CSSProperties = {
    position: 'absolute', fontFamily: FONT, fontSize: 24.5, lineHeight: '24.5px', whiteSpace: 'pre',
  };
  const headFont: React.CSSProperties = {
    ...panelFont, fontWeight: 'bold', fontSize: 27, lineHeight: '27px', color: '#000',
  };

  return (
    <div style={{ position: 'absolute', left: 0, top: 0, width: W, height: H, background: '#fff', overflow: 'hidden' }}>
      <canvas ref={topRef} width={W} height={H} style={canvasStyle} />
      <canvas ref={sbdRef} width={W} height={H} style={canvasStyle} />
      <canvas ref={specRef} width={W} height={H} style={canvasStyle} />

      <div style={{ ...headFont, right: W - 475, top: -18 }}>Mk4/DiFX fourfit  3.16  rev 2251</div>
      <div style={{ ...headFont, right: W - 1426, top: -18 }}>3C454.3.02BGF0, No0001, LX</div>
      <div style={{ ...headFont, right: W - 1443, top: 11.8 }}>METSAHOV - ONSALA60, fgroup W, pol RL</div>

      {panelRows.map(([label, value, cy], i) => (
        <React.Fragment key={i}>
          {label && (
            <div style={{ ...panelFont, left: 1255, top: cy - 12, color: PANEL_GREEN }}>{label}</div>
          )}
          {value && (
            <div style={{ ...panelFont, right: W - 1443, top: cy - 12, color: '#000', textAlign: 'right' }}>{value}</div>
          )}
        </React.Fragment>
      ))}
    </div>
  );
}
